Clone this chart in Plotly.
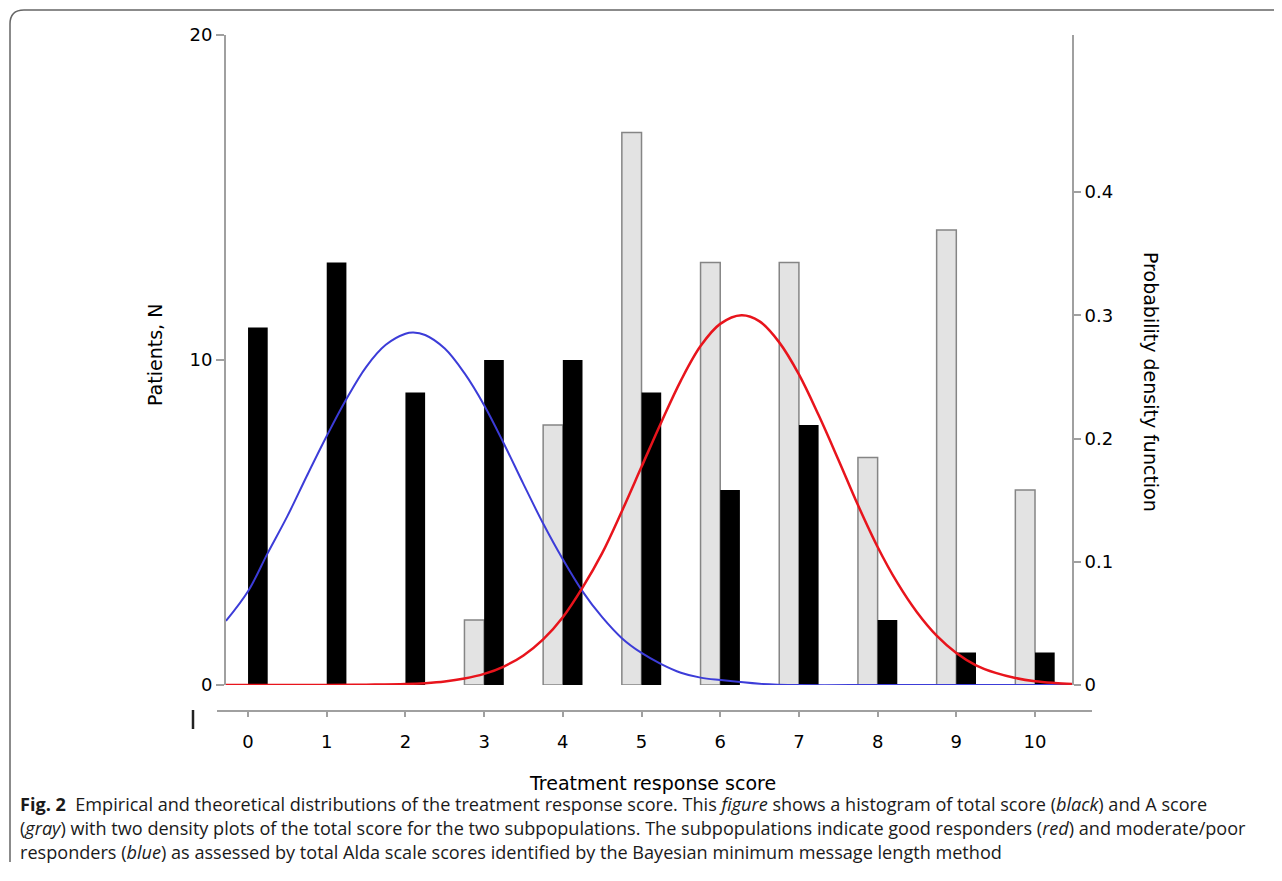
import plotly.graph_objects as go

# ---------------- data ----------------
scores = [0, 1, 2, 3, 4, 5, 6, 7, 8, 9, 10]
total_score_n = [11, 13, 9, 10, 10, 9, 6, 8, 2, 1, 1]      # black bars
a_score_n = [0, 0, 0, 2, 8, 17, 13, 13, 7, 14, 6]          # gray bars

# density curves (x, pdf)
blue_x = [-0.28, 0.0, 0.25, 0.5, 0.75, 1.0, 1.25, 1.5, 1.75, 2.0, 2.1, 2.25, 2.5,
          2.75, 3.0, 3.25, 3.5, 3.75, 4.0, 4.25, 4.5, 4.75, 5.0, 5.25, 5.5, 5.75,
          6.0, 6.5, 7.0, 8.0, 9.0, 10.0, 10.47]
blue_y = [0.052, 0.076, 0.107, 0.137, 0.170, 0.202, 0.232, 0.258, 0.276, 0.285,
          0.286, 0.284, 0.273, 0.253, 0.227, 0.196, 0.163, 0.131, 0.102, 0.076,
          0.055, 0.038, 0.026, 0.017, 0.010, 0.006, 0.004, 0.001, 0.0, 0.0, 0.0,
          0.0, 0.0]

red_x = [-0.28, 1.0, 1.5, 2.0, 2.25, 2.5, 2.75, 3.0, 3.25, 3.5, 3.75, 4.0, 4.25,
         4.5, 4.75, 5.0, 5.25, 5.5, 5.75, 6.0, 6.27, 6.5, 6.75, 7.0, 7.25, 7.5,
         7.75, 8.0, 8.25, 8.5, 8.75, 9.0, 9.25, 9.5, 9.75, 10.0, 10.25, 10.47]
red_y = [0.0, 0.0, 0.0003, 0.0008, 0.0015, 0.0028, 0.0052, 0.009, 0.015, 0.024,
         0.037, 0.055, 0.079, 0.107, 0.141, 0.177, 0.213, 0.247, 0.275, 0.293,
         0.300, 0.295, 0.278, 0.252, 0.219, 0.183, 0.146, 0.112, 0.083, 0.059,
         0.040, 0.026, 0.016, 0.0098, 0.0057, 0.0031, 0.0017, 0.0009]

left_ticks = [0, 10, 20]
right_ticks = [0, 0.1, 0.2, 0.3, 0.4]
right_tick_text = ["0", "0.1", "0.2", "0.3", "0.4"]

caption_lines = [
    "<b>Fig. 2</b>  Empirical and theoretical distributions of the treatment response score. This <i>figure</i> shows a histogram of total score (<i>black</i>) and A score",
    "(<i>gray</i>) with two density plots of the total score for the two subpopulations. The subpopulations indicate good responders (<i>red</i>) and moderate/poor",
    "responders (<i>blue</i>) as assessed by total Alda scale scores identified by the Bayesian minimum message length method",
]

# ---------------- geometry (page has an 8px body margin) ----------------
OFF = 8
W, H = 1282 - OFF, 881 - OFF
ML = 226 - OFF            # left axis at x=226 in the page
MR = W - (1072 - OFF)     # right axis at x=1072
MT = 35 - OFF             # top of plot at y=35
MB = H - (711 - OFF)      # x axis line at y=711
PW = W - ML - MR
PH = H - MT - MB


def px(xp):
    return (xp - OFF - ML) / PW


def py(yp):
    return (H - MB - (yp - OFF)) / PH


FONT = "DejaVu Sans"
AXC = "#a0a0a0"

fig = go.Figure()
fig.add_trace(go.Bar(x=scores, y=a_score_n, name="A score",
                     marker=dict(color="#e3e3e3", line=dict(color="#858585", width=1.5))))
fig.add_trace(go.Bar(x=scores, y=total_score_n, name="Total score",
                     marker=dict(color="#000000", line=dict(width=0))))
fig.add_trace(go.Scatter(x=blue_x, y=blue_y, mode="lines", yaxis="y2",
                         line=dict(color="#3c3cd8", width=2, shape="spline")))
fig.add_trace(go.Scatter(x=red_x, y=red_y, mode="lines", yaxis="y2",
                         line=dict(color="#e8141c", width=2.5, shape="spline")))

fig.update_layout(
    width=W, height=H,
    margin=dict(l=ML, r=MR, t=MT, b=MB, autoexpand=False),
    paper_bgcolor="white", plot_bgcolor="white",
    showlegend=False,
    barmode="group", bargap=0.5, bargroupgap=0,
    font=dict(family=FONT, size=18, color="black"),
    xaxis=dict(range=[-0.28, 10.47], tickvals=scores, ticktext=[str(s) for s in scores],
               anchor="free", position=0, showline=False, showgrid=False, zeroline=False,
               ticks="outside", ticklen=5, tickcolor=AXC, tickwidth=1.5,
               ticklabelstandoff=9, tickfont=dict(size=18)),
    yaxis=dict(range=[0, 20], domain=[py(685), 1], tickvals=left_ticks,
               showline=True, linecolor=AXC, linewidth=2, showgrid=False, zeroline=False,
               ticks="outside", ticklen=8, tickcolor=AXC, tickwidth=1.5, tickfont=dict(size=18)),
    yaxis2=dict(range=[0, 0.5274], overlaying="y", side="right", anchor="x",
                tickvals=right_ticks, ticktext=right_tick_text,
                showline=True, linecolor=AXC, linewidth=2, showgrid=False, zeroline=False,
                ticks="outside", ticklen=7, tickcolor=AXC, tickwidth=1.5, tickfont=dict(size=18)),
)

annotations = [
    dict(text="Treatment response score", x=px(652), y=py(783), xref="paper", yref="paper",
         showarrow=False, font=dict(size=19), xanchor="center", yanchor="middle"),
    dict(text="Patients, N", x=px(155), y=py(355), xref="paper", yref="paper",
         showarrow=False, textangle=-90, font=dict(size=19), xanchor="center", yanchor="middle"),
    dict(text="Probability density function", x=px(1151), y=py(382), xref="paper", yref="paper",
         showarrow=False, textangle=90, font=dict(size=19), xanchor="center", yanchor="middle"),
]
for i, line in enumerate(caption_lines):
    annotations.append(dict(text=line, x=px(18), y=py(804 + 24 * i), xref="paper", yref="paper",
                            showarrow=False, xanchor="left", yanchor="middle", align="left",
                            font=dict(family="Open Sans", size=18.1, color="#1a1a1a")))
fig.update_layout(annotations=annotations)

shapes = [
    # x axis baseline (extends beyond plot area)
    dict(type="line", xref="paper", yref="paper", x0=px(217), x1=px(1092), y0=py(711), y1=py(711),
         line=dict(color=AXC, width=2)),
    # small vertical mark left of the axis
    dict(type="line", xref="paper", yref="paper", x0=px(193), x1=px(193), y0=py(710), y1=py(729),
         line=dict(color="#222222", width=2.5)),
    # figure frame with rounded corner
    dict(type="path", xref="paper", yref="paper",
         path=(f"M {px(10)},{py(862)} L {px(10)},{py(24)} Q {px(10)},{py(10)} {px(24)},{py(10)} "
               f"L {px(1284)},{py(10)}"),
         line=dict(color="#666666", width=1.5)),
]
fig.update_layout(shapes=shapes)

fig.write_html("out.html")
